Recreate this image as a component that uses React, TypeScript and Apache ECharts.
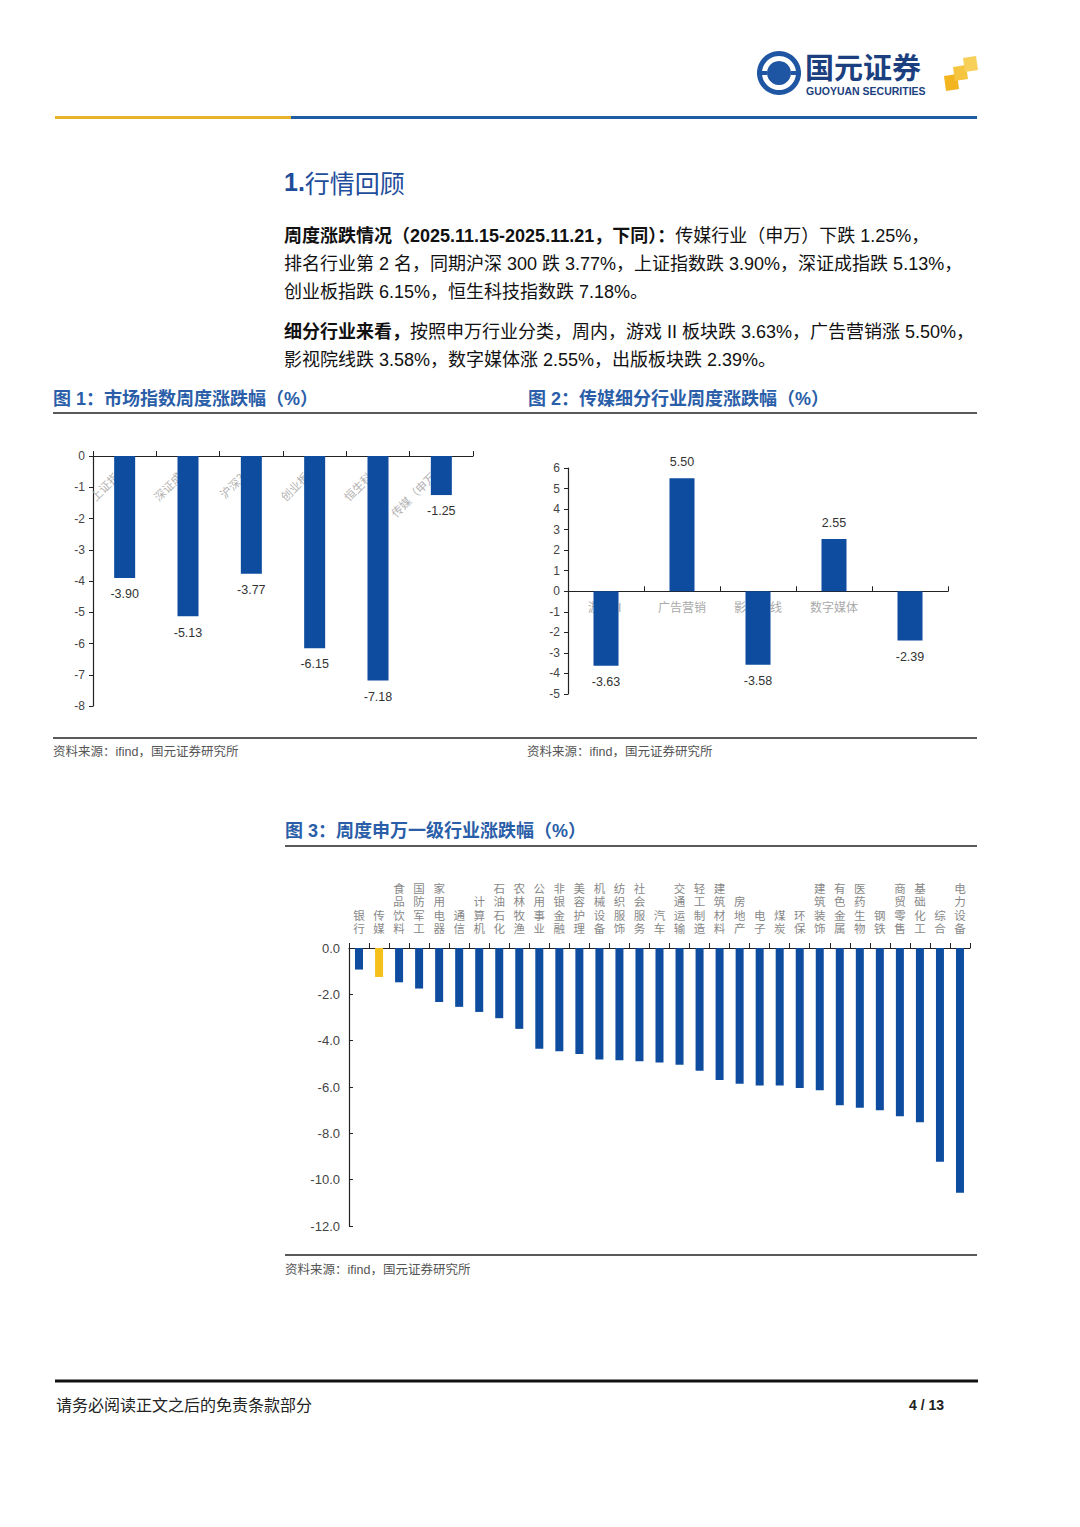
import React, { useEffect, useRef } from "react";
import * as echarts from "echarts";

// ---------- data ----------
const idxCategories = ["上证指数", "深证成指", "沪深300", "创业板指", "恒生科技", "传媒（申万）"];
const idxValues = [-3.9, -5.13, -3.77, -6.15, -7.18, -1.25];

const subCategories = ["游戏Ⅱ", "广告营销", "影视院线", "数字媒体", "出版"];
const subValues = [-3.63, 5.5, -3.58, 2.55, -2.39];

const swCategories = [
  "银行", "传媒", "食品饮料", "国防军工", "家用电器", "通信", "计算机", "石油石化",
  "农林牧渔", "公用事业", "非银金融", "美容护理", "机械设备", "纺织服饰", "社会服务", "汽车",
  "交通运输", "轻工制造", "建筑材料", "房地产", "电子", "煤炭", "环保", "建筑装饰",
  "有色金属", "医药生物", "钢铁", "商贸零售", "基础化工", "综合", "电力设备",
];
const swValues = [
  -0.93, -1.25, -1.48, -1.75, -2.33, -2.54, -2.76, -3.03,
  -3.49, -4.35, -4.46, -4.58, -4.81, -4.84, -4.89, -4.94,
  -5.04, -5.3, -5.7, -5.86, -5.93, -5.93, -6.04, -6.14,
  -6.79, -6.9, -7.0, -7.26, -7.52, -9.23, -10.56,
];
const swHighlight = "传媒";

const para1 = [
  ["周度涨跌情况（2025.11.15-2025.11.21，下同）：", "传媒行业（申万）下跌 1.25%，"],
  ["", "排名行业第 2 名，同期沪深 300 跌 3.77%，上证指数跌 3.90%，深证成指跌 5.13%，"],
  ["", "创业板指跌 6.15%，恒生科技指数跌 7.18%。"],
];
const para2 = [
  ["细分行业来看，", "按照申万行业分类，周内，游戏 II 板块跌 3.63%，广告营销涨 5.50%，"],
  ["", "影视院线跌 3.58%，数字媒体涨 2.55%，出版板块跌 2.39%。"],
];

// ---------- styles ----------
const FONT = "'Liberation Sans', Arial, 'Noto Sans CJK SC', sans-serif";
const CJK = "'Noto Sans CJK SC', 'Liberation Sans', sans-serif";
const BLUE = "#0d4c9f";
const GOLD = "#f5bf1c";
const TITLE_BLUE = "#2a5ea8";
const NAVY = "#1c3f80";

function hline(x1: number, x2: number, y: number, w: number, color: string) {
  return { type: "rect", shape: { x: x1, y: y - w / 2, width: x2 - x1, height: w }, style: { fill: color }, silent: true };
}

function textEl(x: number, y: number, text: string, size: number, color: string, extra: any = {}) {
  return {
    type: "text",
    x,
    y,
    style: {
      text,
      fill: color,
      fontSize: size,
      fontFamily: FONT,
      verticalAlign: "middle",
      ...extra,
    },
    silent: true,
  };
}

function paraEls(lines: string[][], x: number, y0: number, dy: number) {
  return lines.map((ln, i) => ({
    type: "text",
    x,
    y: y0 + i * dy,
    style: {
      text: (ln[0] ? `{b|${ln[0]}}` : "") + `{n|${ln[1]}}`,
      verticalAlign: "middle",
      rich: {
        b: { fontSize: 18, fontWeight: "bold", fontFamily: FONT, fill: "#111" },
        n: { fontSize: 18, fontFamily: FONT, fill: "#111" },
      },
    },
    silent: true,
  }));
}

function buildOption() {
  const graphic: any[] = [
    // logo
    { type: "circle", shape: { cx: 779, cy: 73, r: 22 }, style: { fill: "#1f56a3" } },
    { type: "ring", shape: { cx: 779, cy: 73, r: 17, r0: 12 }, style: { fill: "#fff" } },
    { type: "rect", shape: { x: 757, y: 71, width: 10, height: 4 }, style: { fill: "#1f56a3" } },
    { type: "rect", shape: { x: 791, y: 71, width: 10, height: 4 }, style: { fill: "#1f56a3" } },
    { type: "polygon", shape: { points: [[779, 64], [788, 73], [779, 82], [770, 73]] }, style: { fill: "#1f56a3" } },
    textEl(805, 66, "国元证券", 29, NAVY, { fontWeight: "bold", fontFamily: CJK }),
    textEl(806, 90.5, "GUOYUAN SECURITIES", 10.5, NAVY, { fontWeight: "bold" }),
    { type: "polygon", shape: { points: [[944, 76], [957, 74], [959, 89], [946, 91]] }, style: { fill: "#f2b51f" } },
    { type: "polygon", shape: { points: [[953, 67], [966, 65], [968, 79], [955, 81]] }, style: { fill: "#f5c540" } },
    { type: "polygon", shape: { points: [[963, 58], [976, 56], [978, 70], [965, 72]] }, style: { fill: "#f7d05a" } },
    // header rule
    hline(55, 291, 117.5, 3, "#e8b42c"),
    hline(291, 977, 117.5, 3, "#1f5ca6"),
    // section title
    {
      type: "text",
      x: 284,
      y: 182,
      style: {
        text: "{a|1.}{b|行情回顾}",
        verticalAlign: "middle",
        rich: {
          a: { fontSize: 25, fontWeight: "bold", fontFamily: FONT, fill: "#1e4d9b" },
          b: { fontSize: 25, fontFamily: CJK, fill: "#1e4d9b" },
        },
      },
    },
    ...paraEls(para1, 284, 236, 28),
    ...paraEls(para2, 284, 332, 28),
    // figure titles
    textEl(53, 399, "图 1：市场指数周度涨跌幅（%）", 18, TITLE_BLUE, { fontWeight: "bold" }),
    textEl(528, 399, "图 2：传媒细分行业周度涨跌幅（%）", 18, TITLE_BLUE, { fontWeight: "bold" }),
    hline(53, 977, 413, 1.6, "#222"),
    hline(53, 977, 738, 1.6, "#222"),
    textEl(53, 752, "资料来源：ifind，国元证券研究所", 12.5, "#555"),
    textEl(527, 752, "资料来源：ifind，国元证券研究所", 12.5, "#555"),
    textEl(285, 831, "图 3：周度申万一级行业涨跌幅（%）", 18, TITLE_BLUE, { fontWeight: "bold" }),
    hline(285, 977, 846, 1.6, "#222"),
    hline(285, 977, 1255, 1.6, "#222"),
    textEl(285, 1270, "资料来源：ifind，国元证券研究所", 12.5, "#555"),
    // footer
    hline(55, 978, 1381, 3, "#111"),
    textEl(56, 1405, "请务必阅读正文之后的免责条款部分", 16, "#222"),
    textEl(944, 1405, "4 / 13", 14, "#222", { fontWeight: "bold", align: "right" }),
  ];

  const axisLineDark = { lineStyle: { color: "#222", width: 1.2 } };
  const yLabel = { color: "#444", fontSize: 12, fontFamily: FONT };

  return {
    animation: false,
    backgroundColor: "#fff",
    graphic,
    grid: [
      { left: 93, top: 456, width: 380, height: 250 },
      { left: 568, top: 468, width: 380, height: 226 },
      { left: 349, top: 948, width: 621, height: 278 },
    ],
    xAxis: [
      {
        gridIndex: 0,
        type: "category",
        position: "top",
        data: idxCategories,
        axisLine: { onZero: false, ...axisLineDark },
        axisTick: { show: true, length: 5, lineStyle: { color: "#222" } },
        axisLabel: { inside: true, rotate: -45, margin: 10, color: "#b3b3b3", fontSize: 11.5, fontFamily: CJK },
      },
      {
        gridIndex: 1,
        type: "category",
        data: subCategories,
        axisLine: { onZero: true, ...axisLineDark },
        axisTick: { show: true, inside: true, length: 5, lineStyle: { color: "#222" } },
        axisLabel: { margin: -94, color: "#aaa", fontSize: 12, fontFamily: CJK },
      },
      {
        gridIndex: 2,
        type: "category",
        position: "top",
        data: swCategories,
        axisLine: { onZero: false, ...axisLineDark },
        axisTick: { show: true, length: 5, lineStyle: { color: "#222" } },
        axisLabel: {
          interval: 0,
          margin: 13,
          color: "#888",
          fontSize: 11.5,
          lineHeight: 13.5,
          fontFamily: CJK,
          formatter: (v: string) => v.split("").join("\n"),
        },
      },
    ],
    yAxis: [
      {
        gridIndex: 0,
        type: "value",
        min: -8,
        max: 0,
        interval: 1,
        splitLine: { show: false },
        axisLine: { show: true, ...axisLineDark },
        axisTick: { show: true, length: 4, lineStyle: { color: "#222" } },
        axisLabel: { ...yLabel, margin: 8 },
      },
      {
        gridIndex: 1,
        type: "value",
        min: -5,
        max: 6,
        interval: 1,
        splitLine: { show: false },
        axisLine: { show: true, onZero: false, ...axisLineDark },
        axisTick: { show: true, length: 4, lineStyle: { color: "#222" } },
        axisLabel: { ...yLabel, margin: 8 },
      },
      {
        gridIndex: 2,
        type: "value",
        min: -12,
        max: 0,
        interval: 2,
        splitLine: { show: false },
        axisLine: { show: true, ...axisLineDark },
        axisTick: { show: true, inside: true, length: 4, lineStyle: { color: "#222" } },
        axisLabel: { ...yLabel, fontSize: 13, margin: 9, formatter: (v: number) => v.toFixed(1) },
      },
    ],
    series: [
      {
        type: "bar",
        xAxisIndex: 0,
        yAxisIndex: 0,
        data: idxValues,
        barWidth: 21,
        itemStyle: { color: BLUE },
        label: {
          show: true,
          position: "bottom",
          distance: 10,
          color: "#333",
          fontSize: 12.5,
          fontFamily: FONT,
          formatter: (p: any) => Number(p.value).toFixed(2),
        },
      },
      {
        type: "bar",
        xAxisIndex: 1,
        yAxisIndex: 1,
        barWidth: 25,
        itemStyle: { color: BLUE },
        data: subValues.map((v) => ({
          value: v,
          label: { position: v >= 0 ? "top" : "bottom" },
        })),
        label: {
          show: true,
          distance: 10,
          color: "#333",
          fontSize: 12.5,
          fontFamily: FONT,
          formatter: (p: any) => Number(p.value).toFixed(2),
        },
      },
      {
        type: "bar",
        xAxisIndex: 2,
        yAxisIndex: 2,
        barWidth: 8,
        data: swValues.map((v, i) => ({
          value: v,
          itemStyle: { color: swCategories[i] === swHighlight ? GOLD : BLUE },
        })),
      },
    ],
  };
}

export default function App() {
  const ref = useRef<HTMLDivElement>(null);
  useEffect(() => {
    if (!ref.current) return;
    const chart = echarts.init(ref.current, undefined, { renderer: "svg" });
    chart.setOption(buildOption() as any);
    return () => chart.dispose();
  }, []);
  return (
    <div
      ref={ref}
      style={{ position: "absolute", left: 0, top: 0, width: 1080, height: 1527, background: "#fff" }}
    />
  );
}
